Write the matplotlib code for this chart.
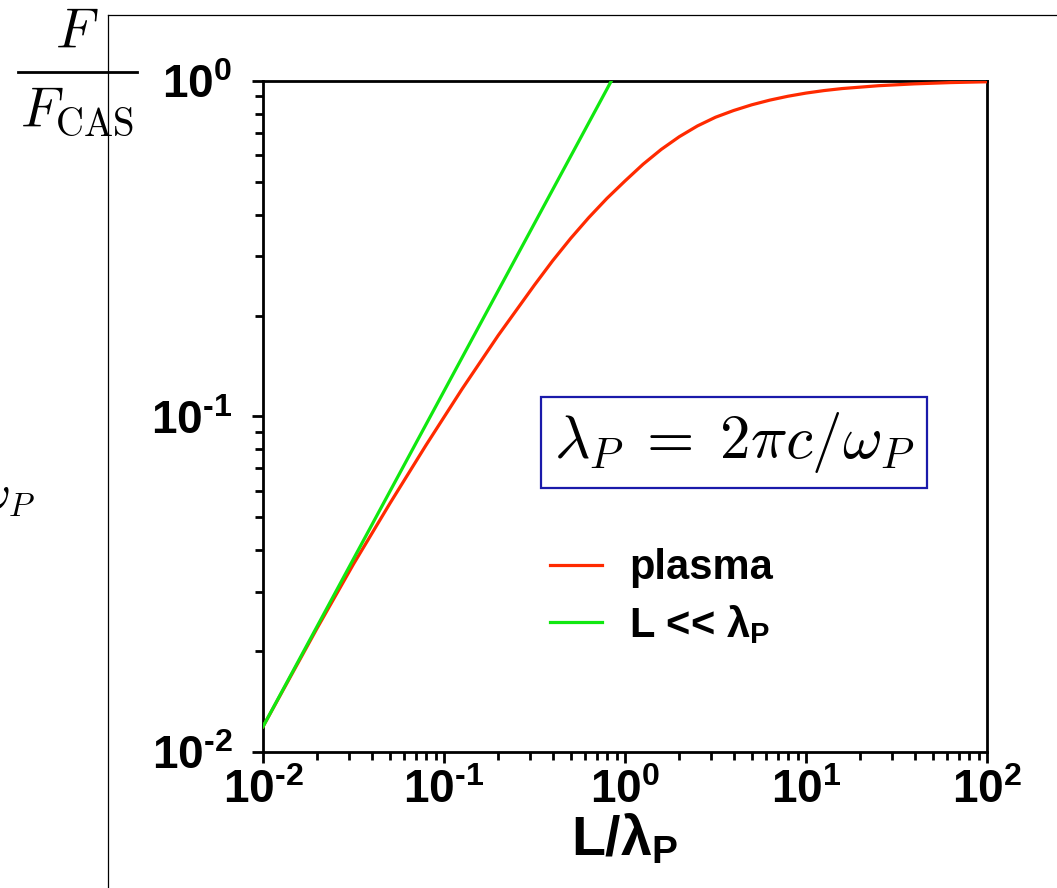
import matplotlib
matplotlib.use("Agg")
import matplotlib.pyplot as plt
from matplotlib.lines import Line2D
from matplotlib.ticker import LogLocator, NullFormatter, FixedLocator, FixedFormatter

plt.rcParams['font.family'] = ['Liberation Sans', 'DejaVu Sans']
plt.rcParams['font.weight'] = 'bold'
plt.rcParams['mathtext.fontset'] = 'custom'
plt.rcParams['mathtext.rm'] = 'Liberation Sans'
plt.rcParams['mathtext.bf'] = 'Liberation Sans:bold'
plt.rcParams['mathtext.it'] = 'Liberation Sans:italic'

# ---- data ----
L_plasma = [0.01, 0.01995, 0.03162, 0.05012, 0.07943, 0.1259, 0.1995, 0.3162, 0.3981,
            0.5012, 0.631, 0.7943, 1.0, 1.259, 1.585, 1.995, 2.512, 3.162, 3.981,
            5.012, 6.31, 7.943, 10.0, 12.59, 15.85, 25.12, 39.81, 63.1, 100.0]
F_plasma = [0.0119, 0.02344, 0.03631, 0.05495, 0.08204, 0.1208, 0.1746, 0.2466, 0.2911,
            0.3396, 0.3917, 0.4467, 0.5035, 0.5649, 0.6252, 0.6823, 0.7345, 0.7798,
            0.8166, 0.8492, 0.8770, 0.9006, 0.9204, 0.9365, 0.9495, 0.9681, 0.9806,
            0.9892, 0.9947]
L_small = [0.01, 0.84]
F_small = [0.0119, 1.0]

x_ticks = [1e-2, 1e-1, 1e0, 1e1, 1e2]
x_labels = ["$\\mathbf{10^{\u20102}}$", "$\\mathbf{10^{\u20101}}$", r"$\mathbf{10^{0}}$",
            r"$\mathbf{10^{1}}$", r"$\mathbf{10^{2}}$"]
y_ticks = [1e-2, 1e-1, 1e0]
y_labels = ["$\\mathbf{10^{\u20102}}$", "$\\mathbf{10^{\u20101}}$", r"$\mathbf{10^{0}}$"]
series_names = ["plasma", r"L << $\mathrm{\lambda}_{\mathbf{P}}$"]
xlabel = r"$\mathbf{L/}\mathrm{\lambda}_{\mathbf{P}}$"

W, H = 1057, 888
fig = plt.figure(figsize=(W / 100, H / 100), dpi=100)
ax = fig.add_axes([263 / W, 1 - 752 / H, (987 - 263) / W, (752 - 81) / H])

ax.plot(L_plasma, F_plasma, color='#ff2a00', lw=2.3, label=series_names[0], zorder=3,
        solid_joinstyle='round')
ax.plot(L_small, F_small, color='#10e810', lw=2.3, label=series_names[1], zorder=4)

ax.set_xscale('log')
ax.set_yscale('log')
ax.set_xlim(1e-2, 1e2)
ax.set_ylim(1e-2, 1e0)

ax.xaxis.set_major_locator(FixedLocator(x_ticks))
ax.xaxis.set_major_formatter(FixedFormatter(x_labels))
ax.yaxis.set_major_locator(FixedLocator(y_ticks))
ax.yaxis.set_major_formatter(FixedFormatter(y_labels))
ax.xaxis.set_minor_locator(LogLocator(base=10, subs=range(2, 10)))
ax.yaxis.set_minor_locator(LogLocator(base=10, subs=range(2, 10)))
ax.xaxis.set_minor_formatter(NullFormatter())
ax.yaxis.set_minor_formatter(NullFormatter())

ax.tick_params(which='major', direction='out', length=8, width=2, labelsize=33)
ax.tick_params(which='minor', direction='out', length=6, width=2)
ax.tick_params(axis='x', which='major', pad=4)
ax.tick_params(axis='y', which='major', pad=14)
for s in ax.spines.values():
    s.set_linewidth(2)

ax.set_xlabel(xlabel, fontsize=40, labelpad=0)

leg = ax.legend(loc='center left', bbox_to_anchor=(0.396, 0.231), frameon=False,
                prop={'weight': 'bold', 'size': 30}, handlelength=1.25,
                handletextpad=0.65, labelspacing=0.35, borderpad=0, borderaxespad=0)
for h in leg.get_lines():
    h.set_linewidth(2.3)

ax.text(0.651, 0.461, r"$\lambda_P\;=\;2\pi c/\omega_P$", transform=ax.transAxes,
        ha='center', va='center', fontsize=44, math_fontfamily='cm',
        bbox=dict(boxstyle='square,pad=0.21', fc='white', ec='#1a1aaa', lw=1.6))

# slide remnants outside the axes
fig.text(77 / W, 1 - 48 / H, r"$F$", ha='center', va='baseline', fontsize=40,
         math_fontfamily='cm')
fig.text(77 / W, 1 - 127 / H, r"$F_{\mathrm{CAS}}$", ha='center', va='baseline',
         fontsize=40, math_fontfamily='cm')
fig.add_artist(Line2D([18 / W, 137 / W], [1 - 72 / H, 1 - 72 / H], color='black', lw=2,
                      transform=fig.transFigure))
fig.text(35 / W, 1 - 496 / H, r"$\omega_P$", ha='right', va='center', fontsize=34,
         math_fontfamily='cm')
fig.add_artist(Line2D([108 / W, 108 / W], [0, 1 - 15 / H], color='black', lw=0.9,
                      transform=fig.transFigure))
fig.add_artist(Line2D([108 / W, 1], [1 - 15 / H, 1 - 15 / H], color='black', lw=0.9,
                      transform=fig.transFigure))

fig.savefig("out.png", dpi=100)
